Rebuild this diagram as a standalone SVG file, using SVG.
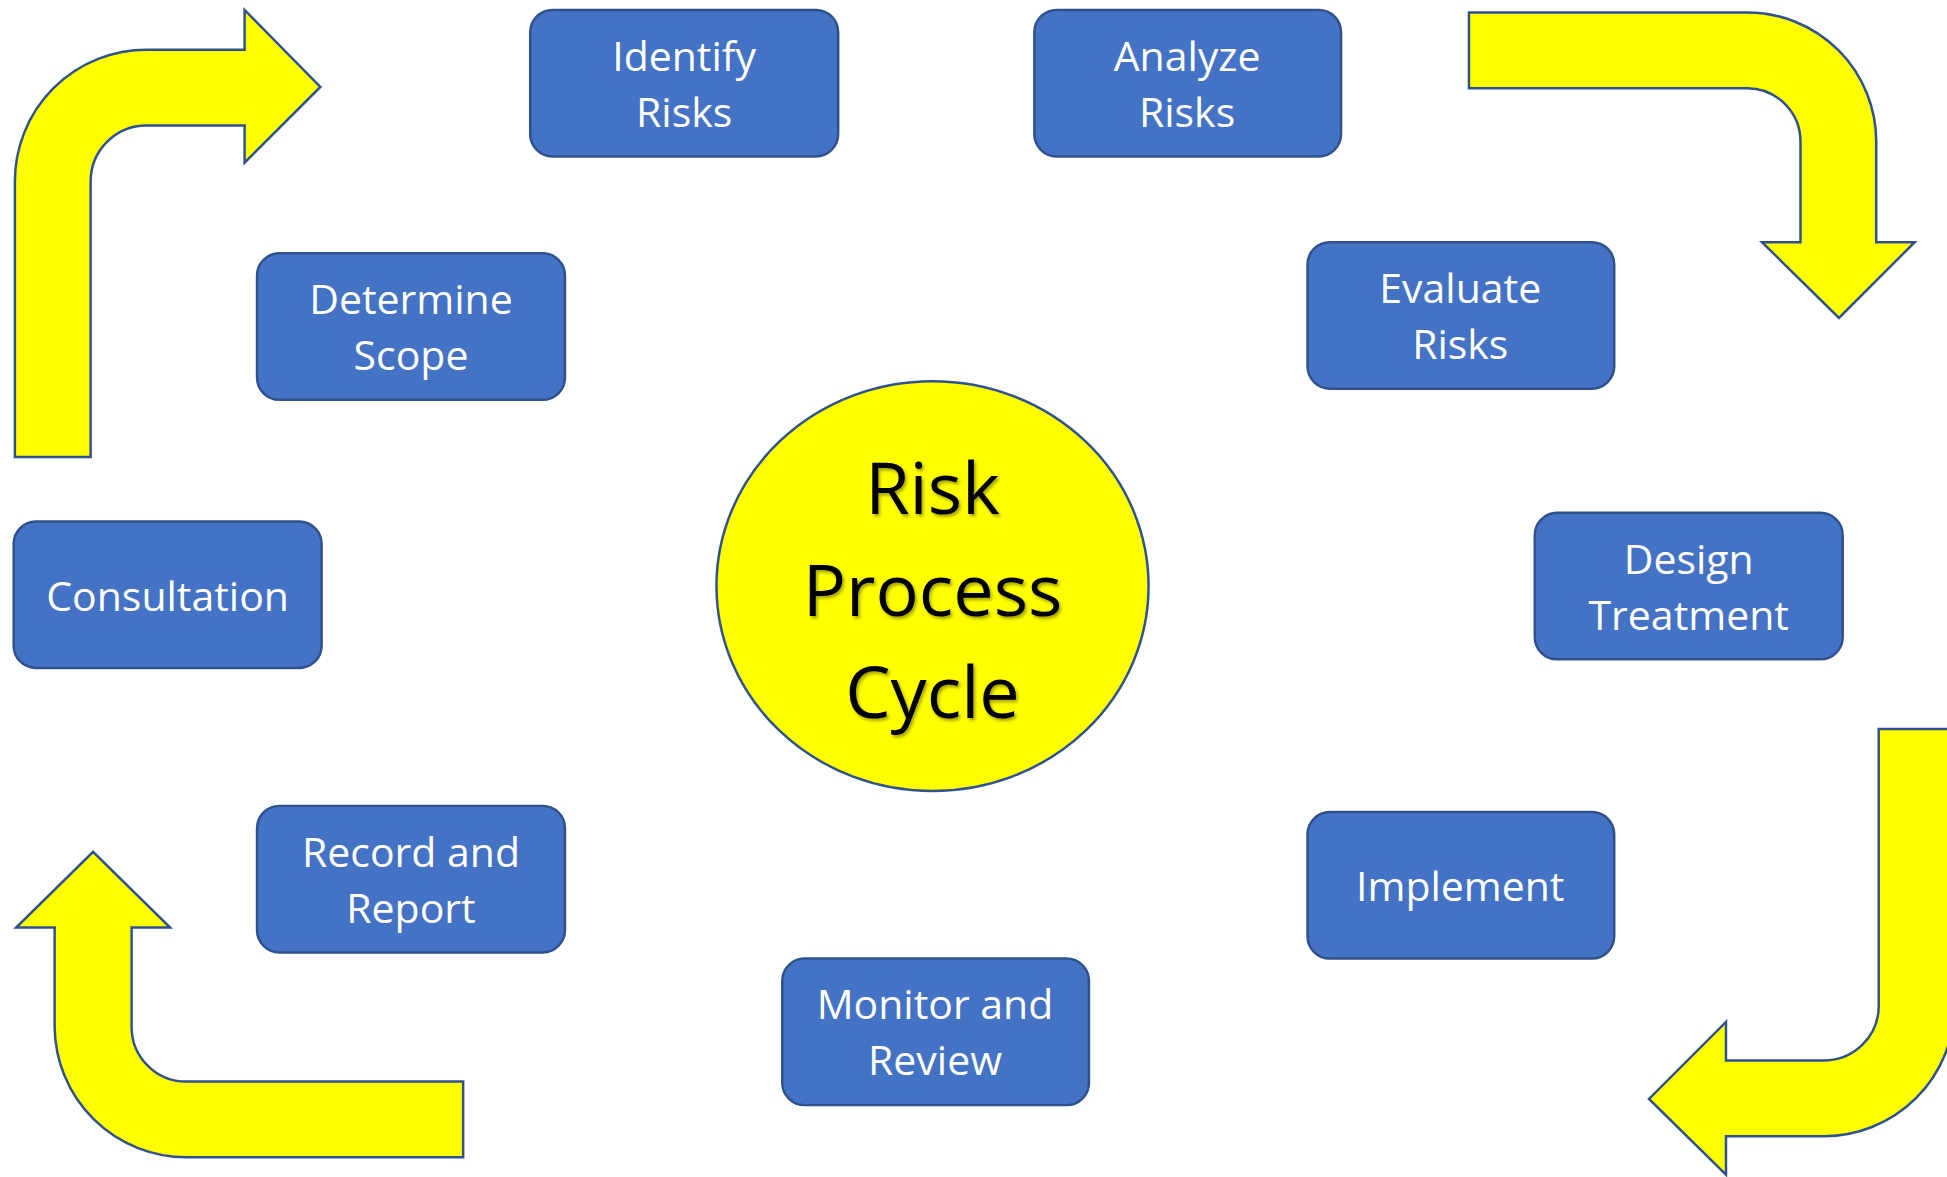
<svg xmlns="http://www.w3.org/2000/svg" width="1947" height="1177" viewBox="0 0 1947 1177">
<defs>
<style>
.node rect{fill:#4472C4;stroke:#2F528F;stroke-width:2}
.node text{fill:#FFFFFF;font-family:"Open Sans","Noto Sans",sans-serif;font-size:33px;text-anchor:middle}
.arrow{fill:#FFFF00;stroke:#2F528F;stroke-width:2;stroke-linejoin:miter}
.hub ellipse{fill:#FFFF00;stroke:#2F528F;stroke-width:2}
.hub text{fill:#000000;font-family:"Open Sans","Noto Sans",sans-serif;font-size:58px;text-anchor:middle;filter:url(#shadow)}
</style>
<filter id="shadow" x="-10%" y="-10%" width="130%" height="140%">
<feDropShadow dx="1.5" dy="2" stdDeviation="1.2" flood-color="#000" flood-opacity="0.35"/>
</filter>
</defs>
<rect width="1947" height="1177" fill="#FFFFFF"/>
<g transform="scale(1.24171)">
<g id="connectors">
<path class="arrow" d="M 12 368 L 12 146 A 106 106 0 0 1 118 40 L 197 40 L 197 8 L 258 70 L 197 131 L 197 101 L 118 101 A 45 45 0 0 0 73 146 L 73 368 Z"/>
<path class="arrow" d="M 1183 10 L 1407 10 A 104 104 0 0 1 1511 114 L 1511 195 L 1542 195 L 1481 256 L 1419 195 L 1450 195 L 1450 114 A 43 43 0 0 0 1407 71 L 1183 71 Z"/>
<path class="arrow" d="M 1513 587 L 1574 587 L 1574 810 A 105 105 0 0 1 1469 915 L 1390 915 L 1390 946 L 1328 885 L 1390 823 L 1390 854 L 1469 854 A 44 44 0 0 0 1513 810 Z"/>
<path class="arrow" d="M 75 686 L 137 747 L 106 747 L 106 827 A 44 44 0 0 0 150 871 L 373 871 L 373 932 L 150 932 A 106 106 0 0 1 44 827 L 44 747 L 13 747 Z"/>
</g>
<g id="hub" class="hub">
<ellipse cx="751" cy="472" rx="174" ry="165"/>
<text x="751" y="414">Risk</text>
<text x="751" y="496">Process</text>
<text x="751" y="578">Cycle</text>
</g>
<g id="identify" class="node"><rect x="427" y="8" width="248" height="118" rx="18"/><text x="551" y="57">Identify</text><text x="551" y="102">Risks</text></g>
<g id="analyze" class="node"><rect x="833" y="8" width="247" height="118" rx="18"/><text x="956" y="57">Analyze</text><text x="956" y="102">Risks</text></g>
<g id="scope" class="node"><rect x="207" y="204" width="248" height="118" rx="18"/><text x="331" y="253">Determine</text><text x="331" y="298">Scope</text></g>
<g id="evaluate" class="node"><rect x="1053" y="195" width="247" height="118" rx="18"/><text x="1176" y="244">Evaluate</text><text x="1176" y="289">Risks</text></g>
<g id="consultation" class="node"><rect x="11" y="420" width="248" height="118" rx="18"/><text x="135" y="492">Consultation</text></g>
<g id="design" class="node"><rect x="1236" y="413" width="248" height="118" rx="18"/><text x="1360" y="462">Design</text><text x="1360" y="507">Treatment</text></g>
<g id="record" class="node"><rect x="207" y="649" width="248" height="118" rx="18"/><text x="331" y="698">Record and</text><text x="331" y="743">Report</text></g>
<g id="implement" class="node"><rect x="1053" y="654" width="247" height="118" rx="18"/><text x="1176" y="726">Implement</text></g>
<g id="monitor" class="node"><rect x="630" y="772" width="247" height="118" rx="18"/><text x="753" y="821">Monitor and</text><text x="753" y="866">Review</text></g>
</g>
</svg>
